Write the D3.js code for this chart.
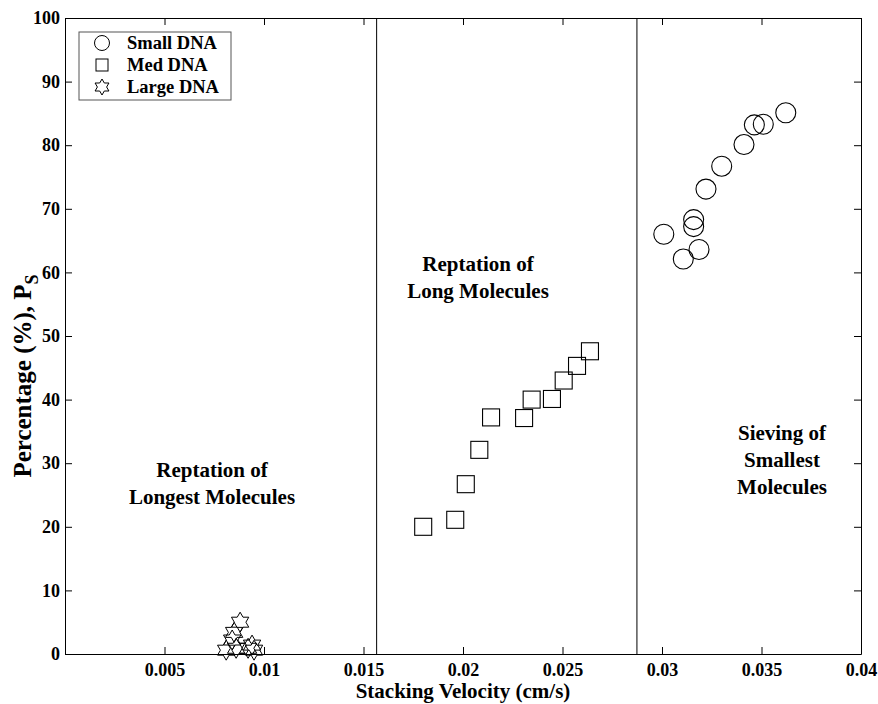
<!DOCTYPE html>
<html>
<head>
<meta charset="utf-8">
<script src="https://cdn.jsdelivr.net/npm/d3@7"></script>
<style>
  body { margin: 0; background: #fff; }
  svg text { font-family: "Liberation Serif", "Times New Roman", serif; font-weight: bold; fill: #000; }
</style>
</head>
<body>
<div id="chart"></div>
<script>
const width = 878;
const height = 704;

// data
const smallX = [0.03622, 0.03509, 0.03464, 0.03412, 0.0330, 0.03221, 0.03159, 0.03159, 0.03009, 0.03186, 0.03107];
const smallY = [85.1, 83.3, 83.2, 80.1, 76.7, 73.1, 68.3, 67.2, 66.0, 63.6, 62.1];

const medX = [0.01800, 0.01961, 0.02014, 0.02082, 0.02141, 0.02307, 0.02345, 0.02447, 0.02506, 0.02573, 0.02638];
const medY = [20.0, 21.1, 26.7, 32.1, 37.2, 37.1, 40.0, 40.1, 43.0, 45.3, 47.6];

const largeX = [0.0088, 0.0085, 0.0084, 0.0081, 0.0086, 0.0094, 0.0092, 0.0095];
const largeY = [5.0, 3.4, 2.2, 0.6, 0.9, 1.4, 0.9, 0.6];

const regionBounds = [0.01566, 0.02874];

const xTicks = [0.005, 0.01, 0.015, 0.02, 0.025, 0.03, 0.035, 0.04];
const yTicks = [0, 10, 20, 30, 40, 50, 60, 70, 80, 90, 100];

const seriesNames = ["Small DNA", "Med DNA", "Large DNA"];

const svg = d3.select("#chart")
    .append("svg")
    .attr("width", width)
    .attr("height", height);

const x = d3.scaleLinear().domain([0, 0.04]).range([65, 861]);
const y = d3.scaleLinear().domain([0, 100]).range([654, 18]);

// axes, ticks pointing inward on all four sides
const gx = svg.append("g")
    .attr("transform", `translate(0,${y(0)})`)
    .call(d3.axisBottom(x).tickValues(xTicks).tickFormat(d => String(d))
        .tickSizeInner(-7).tickSizeOuter(0).tickPadding(9));
gx.selectAll("text").style("font-size", "18px");

const gy = svg.append("g")
    .attr("transform", `translate(${x(0)},0)`)
    .call(d3.axisLeft(y).tickValues(yTicks).tickFormat(d3.format("d"))
        .tickSizeInner(-7).tickSizeOuter(0).tickPadding(5));
gy.selectAll("text").style("font-size", "18px");

svg.append("g")
    .attr("transform", `translate(0,${y(100)})`)
    .call(d3.axisTop(x).tickValues(xTicks).tickFormat("")
        .tickSizeInner(-7).tickSizeOuter(0));

svg.append("g")
    .attr("transform", `translate(${x(0.04)},0)`)
    .call(d3.axisRight(y).tickValues(yTicks).tickFormat("")
        .tickSizeInner(-7).tickSizeOuter(0));

svg.selectAll(".domain").attr("stroke", "#000");
svg.selectAll(".tick line").attr("stroke", "#000");

// region separators
svg.selectAll(".sep")
    .data(regionBounds)
    .enter()
    .append("line")
    .attr("class", "sep")
    .attr("x1", d => x(d))
    .attr("x2", d => x(d))
    .attr("y1", y(0))
    .attr("y2", y(100))
    .attr("stroke", "#000")
    .attr("stroke-width", 1);

// hexagram outline
function hexagram(r) {
    const pts = [];
    for (let i = 0; i < 12; i++) {
        const a = -Math.PI / 2 + i * Math.PI / 6;
        const rr = i % 2 === 0 ? r : r / Math.sqrt(3);
        pts.push([rr * Math.cos(a), rr * Math.sin(a)]);
    }
    return "M" + pts.map(p => p.join(",")).join("L") + "Z";
}

const small = smallX.map((d, i) => ({ x: d, y: smallY[i] }));
const med = medX.map((d, i) => ({ x: d, y: medY[i] }));
const large = largeX.map((d, i) => ({ x: d, y: largeY[i] }));

svg.selectAll(".small")
    .data(small)
    .enter()
    .append("circle")
    .attr("class", "small")
    .attr("cx", d => x(d.x))
    .attr("cy", d => y(d.y))
    .attr("r", 10)
    .attr("fill", "none")
    .attr("stroke", "#000")
    .attr("stroke-width", 1.1);

const sq = 17;
svg.selectAll(".med")
    .data(med)
    .enter()
    .append("rect")
    .attr("class", "med")
    .attr("x", d => x(d.x) - sq / 2)
    .attr("y", d => y(d.y) - sq / 2)
    .attr("width", sq)
    .attr("height", sq)
    .attr("fill", "none")
    .attr("stroke", "#000")
    .attr("stroke-width", 1.1);

svg.selectAll(".large")
    .data(large)
    .enter()
    .append("path")
    .attr("class", "large")
    .attr("transform", d => `translate(${x(d.x)},${y(d.y)})`)
    .attr("d", hexagram(10))
    .attr("fill", "none")
    .attr("stroke", "#000")
    .attr("stroke-width", 1);

// region annotations
const notes = [
    { lines: ["Reptation of", "Longest Molecules"], cx: 212, top: 477 },
    { lines: ["Reptation of", "Long Molecules"], cx: 478, top: 271 },
    { lines: ["Sieving of", "Smallest", "Molecules"], cx: 782, top: 440 }
];
notes.forEach(n => {
    svg.append("text")
        .attr("x", n.cx)
        .attr("y", n.top)
        .attr("text-anchor", "middle")
        .style("font-size", "21px")
        .selectAll("tspan")
        .data(n.lines)
        .enter()
        .append("tspan")
        .attr("x", n.cx)
        .attr("dy", (d, i) => i === 0 ? 0 : 27)
        .text(d => d);
});

// axis titles
svg.append("text")
    .attr("x", (x(0) + x(0.04)) / 2)
    .attr("y", 698)
    .attr("text-anchor", "middle")
    .style("font-size", "21px")
    .text("Stacking Velocity (cm/s)");

const yt = svg.append("text")
    .attr("transform", "translate(31,376) rotate(-90)")
    .attr("text-anchor", "middle")
    .style("font-size", "25px");
yt.append("tspan").text("Percentage (%), P");
yt.append("tspan").attr("dy", 7).style("font-size", "18px").text("S");

// legend
const lg = svg.append("g").attr("transform", "translate(79,32)");
lg.append("rect")
    .attr("width", 152)
    .attr("height", 68)
    .attr("fill", "#fff")
    .attr("stroke", "#555")
    .attr("stroke-width", 1);

const legendRows = lg.selectAll(".row")
    .data(seriesNames)
    .enter()
    .append("g")
    .attr("class", "row")
    .attr("transform", (d, i) => `translate(0,${11 + i * 22})`);

legendRows.each(function (d, i) {
    const g = d3.select(this);
    if (i === 0) {
        g.append("circle").attr("cx", 23).attr("cy", 0).attr("r", 7.5)
            .attr("fill", "none").attr("stroke", "#000");
    } else if (i === 1) {
        g.append("rect").attr("x", 17).attr("y", -6).attr("width", 12).attr("height", 12)
            .attr("fill", "none").attr("stroke", "#000");
    } else {
        g.append("path").attr("transform", "translate(23,0)").attr("d", hexagram(8))
            .attr("fill", "none").attr("stroke", "#000");
    }
    g.append("text")
        .attr("x", 48)
        .attr("y", 6)
        .style("font-size", "18.5px")
        .text(d);
});
</script>
</body>
</html>
